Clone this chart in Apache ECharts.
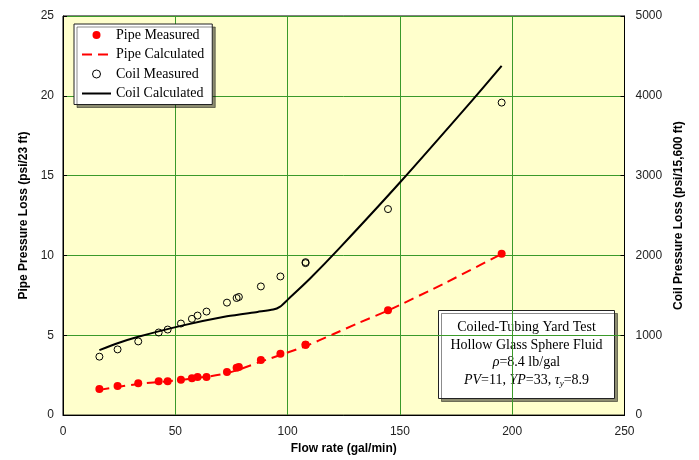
<!DOCTYPE html>
<html>
<head>
<meta charset="utf-8">
<script src="https://cdn.jsdelivr.net/npm/echarts@6/dist/echarts.min.js"></script>
<style>html,body{margin:0;padding:0;background:#fff;}#c{width:699px;height:460px;}</style>
</head>
<body>
<div id="c"></div>
<script>
// Flow rate (gal/min) of measurements
var flowRates = [16.2, 24.3, 33.5, 42.6, 46.6, 52.5, 57.4, 59.9, 63.9, 73.0, 77.3, 78.3, 88.1, 96.8, 108.0, 108.0, 144.7, 195.3];
// Pipe measured pressure loss (psi/23 ft)
var pipeMeasured = [1.64, 1.83, 2.00, 2.12, 2.12, 2.22, 2.31, 2.39, 2.39, 2.70, 2.97, 3.01, 3.45, 3.85, 4.41, 4.41, 6.57, 10.1];
// Coil measured pressure loss (psi/15,600 ft)
var coilMeasured = [732, 823, 923, 1035, 1072, 1147, 1206, 1247, 1297, 1409, 1467, 1480, 1612, 1737, 1916, 1904, 2581, 3915];
// Pipe calculated curve
var pipeCalcX = [16.2, 33.5, 52.5, 73.0, 88.1, 108.0, 120.0, 132.1, 144.7, 170.5, 195.3];
var pipeCalcY = [1.58, 1.95, 2.20, 2.62, 3.35, 4.32, 5.05, 5.80, 6.55, 8.30, 10.1];
// Coil calculated curve
var coilCalcX = [16.2, 24.3, 33.5, 52.5, 73.0, 86.6, 93.6, 96.5, 100.2, 109.9, 123.2, 150.0, 182.5, 195.3];
var coilCalcY = [814, 900, 981, 1118, 1238, 1293, 1322, 1355, 1450, 1708, 2095, 2914, 3953, 4375];
// Axis ticks
var xTicks = [0, 250, 50];
var yLeftTicks = [0, 25, 5];
var yRightTicks = [0, 5000, 1000];

function pairs(xs, ys) { return xs.map(function (x, i) { return [x, ys[i]]; }); }

var chart = echarts.init(document.getElementById('c'), null, {renderer: 'canvas'});
var grid = '#3a9a2a';
var labelFont = {fontFamily: 'Liberation Sans, Arial', fontSize: 12, color: '#222'};
var nameFont = {fontFamily: 'Liberation Sans, Arial', fontSize: 12, fontWeight: 'bold', color: '#000'};
var option = {
  animation: false,
  backgroundColor: '#ffffff',
  grid: {left: 63, right: 74.5, top: 16, bottom: 43, show: true, backgroundColor: '#FFFFCC', borderColor: '#000', borderWidth: 1},
  xAxis: {
    type: 'value', min: xTicks[0], max: xTicks[1], interval: xTicks[2],
    name: 'Flow rate (gal/min)', nameLocation: 'middle', nameGap: 26,
    nameTextStyle: nameFont,
    axisLine: {show: true, lineStyle: {color: '#000', width: 1}},
    axisTick: {show: false},
    axisLabel: Object.assign({margin: 11}, labelFont),
    splitLine: {show: true, lineStyle: {color: grid, width: 1}}
  },
  yAxis: [{
    type: 'value', min: yLeftTicks[0], max: yLeftTicks[1], interval: yLeftTicks[2], position: 'left',
    name: 'Pipe Pressure Loss (psi/23 ft)', nameLocation: 'middle', nameGap: 33,
    nameTextStyle: nameFont,
    axisLine: {show: true, lineStyle: {color: '#000'}},
    axisTick: {show: true, inside: true, length: 4, lineStyle: {color: '#000'}},
    axisLabel: Object.assign({margin: 9}, labelFont),
    splitLine: {show: true, lineStyle: {color: grid, width: 1}}
  }, {
    type: 'value', min: yRightTicks[0], max: yRightTicks[1], interval: yRightTicks[2], position: 'right',
    name: 'Coil Pressure Loss (psi/15,600 ft)', nameLocation: 'middle', nameGap: 45, nameRotate: 90,
    nameTextStyle: nameFont,
    axisLine: {show: true, lineStyle: {color: '#000'}},
    axisTick: {show: true, inside: true, length: 4, lineStyle: {color: '#000'}},
    axisLabel: Object.assign({margin: 11, formatter: function (v) { return String(v); }}, labelFont),
    splitLine: {show: false}
  }],
  legend: {
    orient: 'vertical', left: 74, top: 24,
    itemWidth: 29, itemHeight: 8, itemGap: 5.5,
    padding: [4, 8, 4, 7],
    backgroundColor: '#fff', borderColor: '#222', borderWidth: 1,
    shadowColor: 'rgba(0,0,0,0.45)', shadowOffsetX: 3, shadowOffsetY: 3, shadowBlur: 0,
    textStyle: {fontFamily: 'Liberation Serif, Times New Roman', fontSize: 14, color: '#000'},
    data: [
      {name: 'Pipe Measured'},
      {name: 'Pipe Calculated', itemStyle: {opacity: 0}},
      {name: 'Coil Measured', itemStyle: {borderWidth: 1, borderColor: '#000', color: 'rgba(0,0,0,0)'}},
      {name: 'Coil Calculated', itemStyle: {opacity: 0}}
    ]
  },
  graphic: [{
    type: 'group', left: 438, top: 310, z: 100,
    children: [
      {type: 'rect', shape: {x: 0, y: 0, width: 176, height: 88},
       style: {fill: '#fff', stroke: '#222', lineWidth: 1, shadowColor: 'rgba(0,0,0,0.45)', shadowOffsetX: 3, shadowOffsetY: 3, shadowBlur: 0}},
      {type: 'text', x: 88, y: 8,
       style: {
         text: 'Coiled-Tubing Yard Test\nHollow Glass Sphere Fluid\n{i|ρ}=8.4 lb/gal\n{i|PV}=11, {i|YP}=33, {i|τ}{s|y}=8.9',
         align: 'center', verticalAlign: 'top', lineHeight: 17.7,
         fontFamily: 'Liberation Serif, Times New Roman', fontSize: 14, fill: '#000',
         rich: {
           i: {fontFamily: 'Liberation Serif, Times New Roman', fontSize: 14, fontStyle: 'italic', fill: '#000', lineHeight: 17.7},
           s: {fontFamily: 'Liberation Serif, Times New Roman', fontSize: 9, fontStyle: 'italic', fill: '#000', padding: [7, 0, 0, 0], lineHeight: 17.7}
         }
       }}
    ]
  }],
  series: [{
    name: 'Pipe Measured', type: 'scatter', yAxisIndex: 0, z: 5,
    data: pairs(flowRates, pipeMeasured), symbol: 'circle', symbolSize: 8,
    itemStyle: {color: '#ff0000', opacity: 1}
  }, {
    name: 'Pipe Calculated', type: 'line', yAxisIndex: 0, z: 4,
    data: pairs(pipeCalcX, pipeCalcY), smooth: 0.25, symbol: 'none', showSymbol: false,
    lineStyle: {color: '#ff0000', width: 2, type: [10, 6]}, itemStyle: {color: '#ff0000'}
  }, {
    name: 'Coil Measured', type: 'scatter', yAxisIndex: 1, z: 5,
    data: pairs(flowRates, coilMeasured), symbol: 'circle', symbolSize: 7,
    itemStyle: {color: 'rgba(0,0,0,0)', borderColor: '#000', borderWidth: 1, opacity: 1}
  }, {
    name: 'Coil Calculated', type: 'line', yAxisIndex: 1, z: 4,
    data: pairs(coilCalcX, coilCalcY), smooth: 0.25, symbol: 'none', showSymbol: false,
    lineStyle: {color: '#000', width: 2}, itemStyle: {color: '#000'}
  }]
};
chart.setOption(option);
</script>
</body>
</html>
